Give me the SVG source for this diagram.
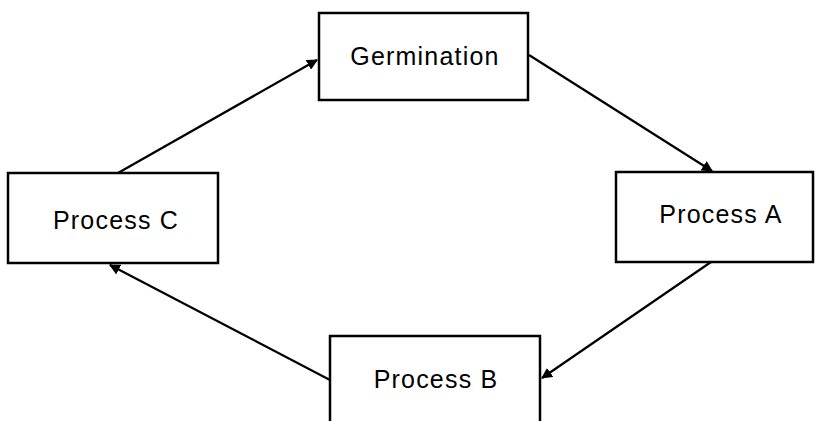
<svg xmlns="http://www.w3.org/2000/svg" width="816" height="421" viewBox="0 0 816 421">
<style>
.box{fill:#fff;stroke:#000;stroke-width:2.5}
.lbl{font-family:"Liberation Sans",Arial,sans-serif;font-size:25px;letter-spacing:1.2px;fill:#000;text-anchor:middle;dominant-baseline:central}
.con{stroke:#000;stroke-width:2.2;fill:none;marker-end:url(#ah)}
</style>
<defs>
<marker id="ah" viewBox="0 0 10 10" refX="9" refY="5" markerWidth="5" markerHeight="5" orient="auto" markerUnits="strokeWidth">
<path d="M0,0 L10,5 L0,10 Z" fill="#000"/>
</marker>
</defs>
<rect width="816" height="421" fill="#fff"/>
<g id="connectors">
<line class="con" x1="529" y1="55" x2="712" y2="171"/>
<line class="con" x1="711" y1="262" x2="542" y2="378"/>
<line class="con" x1="330" y1="380" x2="110" y2="265"/>
<line class="con" x1="118" y1="173" x2="317" y2="60"/>
</g>
<g id="germination">
<rect class="box" x="319" y="13" width="209" height="87"/>
<text class="lbl" x="425" y="56">Germination</text>
</g>
<g id="process-a">
<rect class="box" x="616" y="172" width="197" height="90"/>
<text class="lbl" x="721" y="214">Process A</text>
</g>
<g id="process-b">
<rect class="box" x="330" y="336" width="210" height="90"/>
<text class="lbl" x="436" y="379">Process B</text>
</g>
<g id="process-c">
<rect class="box" x="8" y="173" width="210" height="90"/>
<text class="lbl" x="116" y="220">Process C</text>
</g>
</svg>
